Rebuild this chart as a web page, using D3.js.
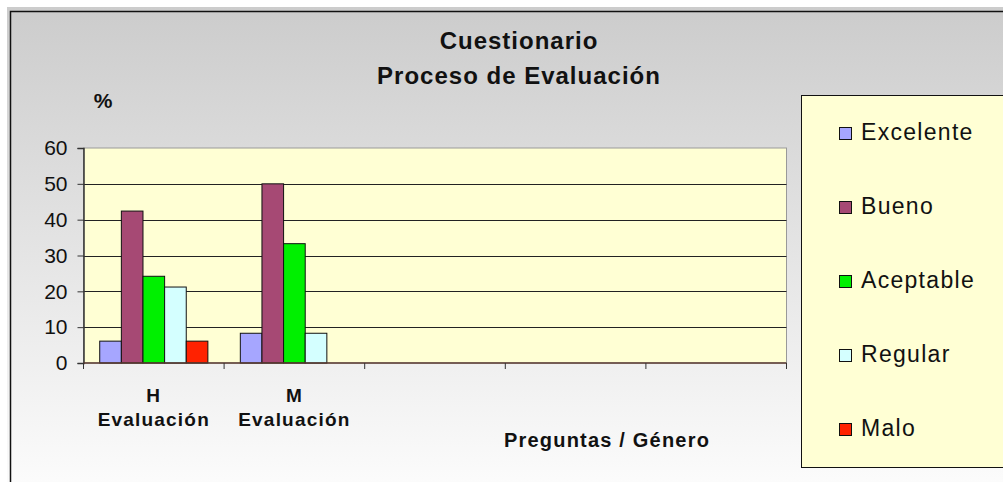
<!DOCTYPE html>
<html>
<head>
<meta charset="utf-8">
<script src="https://cdn.jsdelivr.net/npm/d3@7"></script>
<style>
	body { margin: 0; background: #fff; }
	svg { display: block; font-family: "Liberation Sans", Arial, sans-serif; }
</style>
</head>
<body>
<svg id="chart"></svg>
<script>
// chart data
const seriesNames = [ 'Excelente', 'Bueno', 'Aceptable', 'Regular', 'Malo' ];
const seriesColors = [ '#a6a6ff', '#a64974', '#00f000', '#d4ffff', '#ff2200' ];
const categoryIds = [ 'c1', 'c2', 'c3', 'c4', 'c5' ];
const categoryLabels = [ [ 'H', 'Evaluación' ], [ 'M', 'Evaluación' ], [], [], [] ];
const valuesH = [ 6.1, 42.4, 24.2, 21.2, 6.1 ];
const valuesM = [ 8.3, 50, 33.3, 8.3, 0 ];
const yTicks = [ 0, 10, 20, 30, 40, 50, 60 ];

const seriesValues = [ valuesH, valuesM, [], [], [] ];

const width = 1003;
const height = 482;
const plot = { left: 83.5, right: 786.5, top: 148, bottom: 363 };

const svg = d3.select( '#chart' )
	.attr( 'width', width )
	.attr( 'height', height );

// background gradient
const defs = svg.append( 'defs' );
const grad = defs.append( 'linearGradient' )
	.attr( 'id', 'bg' )
	.attr( 'x1', 0 ).attr( 'y1', 0 )
	.attr( 'x2', 0 ).attr( 'y2', 1 );
grad.append( 'stop' ).attr( 'offset', '0%' ).attr( 'stop-color', '#cccccc' );
grad.append( 'stop' ).attr( 'offset', '100%' ).attr( 'stop-color', '#fcfcfc' );

svg.append( 'rect' )
	.attr( 'x', 7 ).attr( 'y', 7 )
	.attr( 'width', width ).attr( 'height', height )
	.attr( 'fill', 'url(#bg)' );

svg.append( 'rect' )
	.attr( 'x', 10.5 ).attr( 'y', 11.5 )
	.attr( 'width', width ).attr( 'height', height )
	.attr( 'fill', 'none' )
	.attr( 'stroke', '#111' )
	.attr( 'stroke-width', 1.5 );

// scales
const x = d3.scaleBand()
	.domain( categoryIds )
	.range( [ plot.left, plot.right ] )
	.padding( 0 );

const xInner = d3.scaleBand()
	.domain( seriesNames )
	.range( [ 0, x.bandwidth() ] )
	.paddingInner( 0 )
	.paddingOuter( 0.75 );

const y = d3.scaleLinear()
	.domain( [ 0, 60 ] )
	.range( [ plot.bottom, plot.top ] );

// plot area
svg.append( 'rect' )
	.attr( 'x', plot.left ).attr( 'y', plot.top )
	.attr( 'width', plot.right - plot.left )
	.attr( 'height', plot.bottom - plot.top )
	.attr( 'fill', '#ffffd4' )
	.attr( 'stroke', '#999' )
	.attr( 'stroke-width', 1 );

// gridlines
svg.append( 'g' )
	.selectAll( 'line' )
	.data( yTicks.filter( ( d ) => d > 0 && d < 60 ) )
	.join( 'line' )
	.attr( 'x1', plot.left ).attr( 'x2', plot.right )
	.attr( 'y1', ( d ) => Math.round( y( d ) ) + 0.5 )
	.attr( 'y2', ( d ) => Math.round( y( d ) ) + 0.5 )
	.attr( 'stroke', '#222' )
	.attr( 'stroke-width', 1 );

// bars
const groups = svg.append( 'g' )
	.selectAll( 'g' )
	.data( categoryIds )
	.join( 'g' )
	.attr( 'transform', ( d ) => `translate(${ x( d ) },0)` );

groups.selectAll( 'rect' )
	.data( ( d, i ) => seriesValues[ i ]
		.map( ( v, j ) => ( { name: seriesNames[ j ], value: v, color: seriesColors[ j ] } ) )
		.filter( ( b ) => b.value > 0 ) )
	.join( 'rect' )
	.attr( 'x', ( d ) => xInner( d.name ) )
	.attr( 'y', ( d ) => y( d.value ) )
	.attr( 'width', xInner.bandwidth() )
	.attr( 'height', ( d ) => y( 0 ) - y( d.value ) )
	.attr( 'fill', ( d ) => d.color )
	.attr( 'stroke', '#111' )
	.attr( 'stroke-width', 1 );

// y axis
const yAxis = svg.append( 'g' )
	.attr( 'transform', `translate(${ plot.left },0)` )
	.call( d3.axisLeft( y ).tickValues( yTicks ).tickSize( 6 ).tickPadding( 10 ) );
yAxis.select( '.domain' ).attr( 'stroke', '#333' ).attr( 'stroke-width', 1.5 );
yAxis.selectAll( '.tick line' ).attr( 'stroke', '#333' );
yAxis.selectAll( '.tick text' )
	.attr( 'font-size', 21 )
	.attr( 'fill', '#111' )
	.attr( 'font-family', '"Liberation Sans", Arial, sans-serif' );

// x axis
const xAxis = svg.append( 'g' )
	.attr( 'transform', `translate(0,${ plot.bottom })` );
xAxis.append( 'line' )
	.attr( 'x1', plot.left ).attr( 'x2', plot.right )
	.attr( 'y1', 0 ).attr( 'y2', 0 )
	.attr( 'stroke', '#5a3a30' )
	.attr( 'stroke-width', 1.5 );
xAxis.selectAll( '.xtick' )
	.data( categoryIds.map( ( d ) => x( d ) ).concat( [ plot.right ] ) )
	.join( 'line' )
	.attr( 'class', 'xtick' )
	.attr( 'x1', ( d ) => d ).attr( 'x2', ( d ) => d )
	.attr( 'y1', 0 ).attr( 'y2', 6 )
	.attr( 'stroke', '#333' );

const catText = xAxis.selectAll( '.cat' )
	.data( categoryIds )
	.join( 'text' )
	.attr( 'class', 'cat' )
	.attr( 'text-anchor', 'middle' )
	.attr( 'font-size', 19 )
	.attr( 'font-weight', 'bold' )
	.attr( 'letter-spacing', 1.2 )
	.attr( 'fill', '#111' );
catText.selectAll( 'tspan' )
	.data( ( d, i ) => categoryLabels[ i ] )
	.join( 'tspan' )
	.attr( 'x', function () {
		return x( d3.select( this.parentNode ).datum() ) + x.bandwidth() / 2;
	} )
	.attr( 'y', ( d, i ) => 39 + i * 24 )
	.text( ( d ) => d );

// titles
svg.append( 'text' )
	.attr( 'x', 519 ).attr( 'y', 49 )
	.attr( 'text-anchor', 'middle' )
	.attr( 'font-size', 24 )
	.attr( 'font-weight', 'bold' )
	.attr( 'letter-spacing', 1 )
	.attr( 'fill', '#111' )
	.text( 'Cuestionario' );

svg.append( 'text' )
	.attr( 'x', 519 ).attr( 'y', 84 )
	.attr( 'text-anchor', 'middle' )
	.attr( 'font-size', 24 )
	.attr( 'font-weight', 'bold' )
	.attr( 'letter-spacing', 1 )
	.attr( 'fill', '#111' )
	.text( 'Proceso de Evaluación' );

svg.append( 'text' )
	.attr( 'x', 103 ).attr( 'y', 108 )
	.attr( 'text-anchor', 'middle' )
	.attr( 'font-size', 21 )
	.attr( 'font-weight', 'bold' )
	.attr( 'fill', '#111' )
	.text( '%' );

svg.append( 'text' )
	.attr( 'x', 607 ).attr( 'y', 447 )
	.attr( 'text-anchor', 'middle' )
	.attr( 'font-size', 20 )
	.attr( 'font-weight', 'bold' )
	.attr( 'letter-spacing', 1.2 )
	.attr( 'fill', '#111' )
	.text( 'Preguntas / Género' );

// legend
const legend = svg.append( 'g' );
legend.append( 'rect' )
	.attr( 'x', 801.5 ).attr( 'y', 95.5 )
	.attr( 'width', 220 ).attr( 'height', 372 )
	.attr( 'fill', '#ffffd4' )
	.attr( 'stroke', '#111' )
	.attr( 'stroke-width', 1 );

const legendY = d3.scalePoint()
	.domain( seriesNames )
	.range( [ 140, 436 ] );

const items = legend.selectAll( '.item' )
	.data( seriesNames )
	.join( 'g' )
	.attr( 'class', 'item' )
	.attr( 'transform', ( d ) => `translate(0,${ legendY( d ) })` );

items.append( 'rect' )
	.attr( 'x', 839.5 ).attr( 'y', -12.5 )
	.attr( 'width', 12 ).attr( 'height', 12 )
	.attr( 'fill', ( d, i ) => seriesColors[ i ] )
	.attr( 'stroke', '#111' );

items.append( 'text' )
	.attr( 'x', 861 ).attr( 'y', 0 )
	.attr( 'font-size', 23 )
	.attr( 'letter-spacing', 1.3 )
	.attr( 'fill', '#111' )
	.text( ( d ) => d );
</script>
</body>
</html>
